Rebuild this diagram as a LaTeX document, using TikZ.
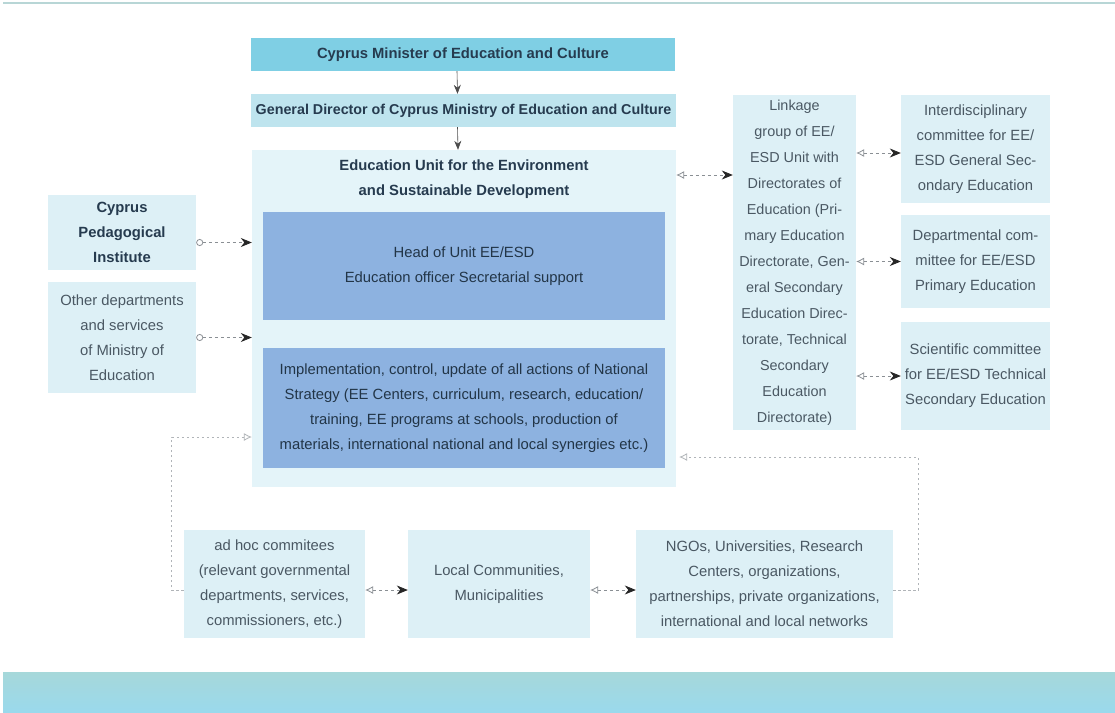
\documentclass[tikz,border=0pt]{standalone}
\usepackage{fontspec}
\setmainfont{Liberation Sans}
\usetikzlibrary{arrows.meta}
\definecolor{lightbox}{HTML}{DDF0F6}
\definecolor{unitbox}{HTML}{E4F4F9}
\definecolor{midbox}{HTML}{8DB2E0}
\definecolor{topbox}{HTML}{7FCFE4}
\definecolor{gdbox}{HTML}{BEE4EE}
\definecolor{txt}{HTML}{4A5863}
\definecolor{dtxt}{HTML}{263B4F}
\definecolor{bandtop}{HTML}{A6D8DA}
\definecolor{bandbot}{HTML}{9AD9EC}
\definecolor{topline}{HTML}{B8D6D6}
\definecolor{arrgrey}{HTML}{8A8F94}
\definecolor{loopgrey}{HTML}{B0B4B8}
\tikzset{
  box/.style={rectangle, inner sep=0pt, align=center, text=txt, fill=lightbox,
    font=\fontsize{14.8}{25}\selectfont},
  bbox/.style={box, text=dtxt, font=\bfseries\fontsize{14.8}{25}\selectfont},
  bluebox/.style={box, fill=midbox, text=dtxt!90!black},
  dasharr/.style={arrgrey, line width=0.8pt, dash pattern=on 3pt off 3pt,
    {Latex[open,length=8pt,width=8pt]}-{Stealth[length=11pt,width=9pt,color=black!85,fill=black!85]}},
  circarr/.style={arrgrey, line width=0.8pt, dash pattern=on 3pt off 3pt,
    {Circle[open,length=7pt,width=7pt]}-{Stealth[length=11pt,width=9pt,color=black!85,fill=black!85]}},
  looparr/.style={loopgrey, line width=0.8pt, dash pattern=on 2.5pt off 2.5pt,
    -{Latex[open,length=8pt,width=8pt]}},
  downarr/.style={black!70, line width=0.6pt, -{Stealth[length=9pt,width=7pt]}}
}
\begin{document}
\begin{tikzpicture}[x=1pt,y=-1pt]
\useasboundingbox (0,0) rectangle (1115,712);
\fill[white] (0,0) rectangle (1115,712);
% decorative top line and bottom band
\fill[topline] (3,2) rectangle (1115,4);
\shade[top color=bandtop, bottom color=bandbot] (3,672) rectangle (1115,712);

% top chain
\node[bbox, fill=topbox, minimum width=424pt, minimum height=33pt] (min) at (463,54.5)
  {Cyprus Minister of Education and Culture};
\node[bbox, fill=gdbox, minimum width=425pt, minimum height=33pt, font=\bfseries\fontsize{14.3}{25}\selectfont] (gd) at (463.5,110.5)
  {General Director of Cyprus Ministry of Education and Culture};
\node[box, fill=unitbox, minimum width=424pt, minimum height=337pt] (eu) at (464,318.5) {};
\node[bbox, fill=none] (eut) at (464,179)
  {Education Unit for the Environment\\and Sustainable Development};
\node[bluebox, minimum width=402pt, minimum height=108pt] (head) at (464,266)
  {Head of Unit EE/ESD\\Education officer Secretarial support};
\node[bluebox, minimum width=402pt, minimum height=120pt] (impl) at (464,408)
  {Implementation, control, update of all actions of National\\
   Strategy (EE Centers, curriculum, research, education/\\
   training, EE programs at schools, production of\\
   materials, international national and local synergies etc.)};

% left boxes
\node[bbox, fill=lightbox, minimum width=148pt, minimum height=75pt] (cpi) at (122,232.5)
  {Cyprus\\Pedagogical\\Institute};
\node[box, minimum width=148pt, minimum height=111pt] (oth) at (122,337.5)
  {Other departments\\and services\\of Ministry of\\Education};

% right column
\node[box, minimum width=123pt, minimum height=335pt, font=\fontsize{14.4}{26}\selectfont] (link) at (794.5,262.5)
  {Linkage\\group of EE/\\ESD Unit with\\Directorates of\\Education (Pri-\\mary Education\\
   Directorate, Gen-\\eral Secondary\\Education Direc-\\torate, Technical\\Secondary\\Education\\Directorate)};
\node[box, minimum width=149pt, minimum height=108pt] (inter) at (975.5,149)
  {Interdisciplinary\\committee for EE/\\ESD General Sec-\\ondary Education};
\node[box, minimum width=149pt, minimum height=93pt] (dept) at (975.5,261.5)
  {Departmental com-\\mittee for EE/ESD\\Primary Education};
\node[box, minimum width=149pt, minimum height=108pt] (sci) at (975.5,376)
  {Scientific committee\\for EE/ESD Technical\\Secondary Education};

% bottom row
\node[box, minimum width=181pt, minimum height=108pt] (adhoc) at (274.5,584)
  {ad hoc commitees\\(relevant governmental\\departments, services,\\commissioners, etc.)};
\node[box, minimum width=182pt, minimum height=108pt] (local) at (499,584)
  {Local Communities,\\Municipalities};
\node[box, minimum width=257pt, minimum height=108pt] (ngo) at (764.5,584)
  {NGOs, Universities, Research\\Centers, organizations,\\partnerships, private organizations,\\international and local networks};

% connectors
\draw[downarr] ([xshift=-6pt]min.south) -- ([xshift=-6pt]gd.north);
\draw[downarr] ([xshift=-6pt]gd.south) -- ([xshift=-6pt]eu.north);

\coordinate (c1) at ([yshift=-10pt]cpi.east);
\draw[circarr] (c1) -- (c1 -| eu.west);
\draw[circarr] (oth.east) -- (oth.east -| eu.west);

\coordinate (c2) at (eu.east |- 0,175);
\draw[dasharr] (c2) -- (c2 -| link.west);

\coordinate (c3) at (link.east |- 0,153);
\draw[dasharr] (c3) -- (c3 -| inter.west);
\draw[dasharr] (link.east |- dept.west) -- (dept.west);
\draw[dasharr] (link.east |- sci.west) -- (sci.west);

\coordinate (c4) at (adhoc.east |- 0,590);
\draw[dasharr] (c4) -- (c4 -| local.west);
\coordinate (c5) at (local.east |- 0,590);
\draw[dasharr] (c5) -- (c5 -| ngo.west);

% feedback loops
\coordinate (l1) at (adhoc.west |- 0,590);
\coordinate (l1t) at (eu.west |- 0,437);
\draw[looparr] (l1) -- ++(-12,0) |- (l1t);
\coordinate (l2) at (ngo.east |- 0,590);
\coordinate (l2t) at (eu.east |- 0,457);
\draw[looparr] (l2) -- ++(25,0) |- ([xshift=3pt]l2t);
\end{tikzpicture}
\end{document}
